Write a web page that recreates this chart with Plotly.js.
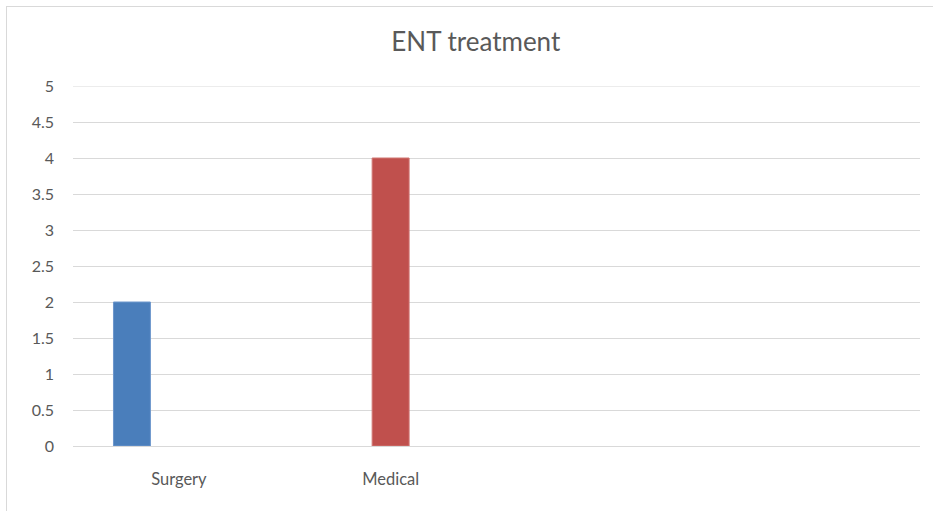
<!DOCTYPE html>
<html>
<head>
<meta charset="utf-8">
<script src="https://cdn.plot.ly/plotly-3.0.1.min.js"></script>
<style>
  html, body { margin: 0; padding: 0; background: #fff; }
  #wrap { position: relative; width: 933px; height: 511px; overflow: hidden; }
  #chart { position: absolute; left: 0; top: 0; width: 933px; height: 511px; }
  #frame { position: absolute; left: 6px; top: 6px; width: 940px; height: 520px;
           border: 1px solid #d9d9d9; box-sizing: border-box; pointer-events: none; }
</style>
</head>
<body>
<div id="wrap">
  <div id="chart"></div>
  <div id="frame"></div>
</div>
<script>
const categories = ["Surgery", "Medical"];
const series1 = [2, null];
const series2 = [null, 4];
const series3 = [null, null];
const yMax = 5;
const yTicks = [0, 0.5, 1, 1.5, 2, 2.5, 3, 3.5, 4, 4.5, 5];
const yTickLabels = ["0", "0.5", "1", "1.5", "2", "2.5", "3", "3.5", "4", "4.5", "5"];

const fontFam = "Lato, 'Open Sans', 'Liberation Sans', sans-serif";

const traces = [
  { type: "bar", name: "Series1", x: categories, y: series1,
    marker: { color: "#4a7ebb", line: { color: "#6d97cc", width: 1 } } },
  { type: "bar", name: "Series2", x: categories, y: series2,
    marker: { color: "#c0504d", line: { color: "#d07673", width: 1 } } },
  { type: "bar", name: "Series3", x: categories, y: series3,
    marker: { color: "#9bbb59" } }
];

const layout = {
  width: 933, height: 511,
  margin: { l: 73, r: 13, t: 86, b: 65 },
  paper_bgcolor: "#ffffff", plot_bgcolor: "#ffffff",
  barmode: "group",
  bargap: 0.335,
  bargroupgap: 0.213,
  showlegend: false,
  title: { text: "ENT treatment", x: 0.51, xanchor: "center", y: 0.918, yanchor: "middle",
           font: { family: fontFam, size: 26, color: "#595959" } },
  shapes: [
    { type: "line", xref: "paper", yref: "y", x0: 0, x1: 1, y0: yMax, y1: yMax,
      line: { color: "#d9d9d9", width: 1 }, layer: "below" }
  ],
  xaxis: {
    type: "category",
    range: [-0.5, 3.5],
    showgrid: false, zeroline: false, showline: false,
    ticks: "", ticklabelstandoff: 21,
    tickfont: { family: fontFam, size: 16.5, color: "#595959" },
    fixedrange: true
  },
  yaxis: {
    range: [0, yMax],
    tickvals: yTicks, ticktext: yTickLabels,
    showgrid: true, gridcolor: "#d9d9d9", gridwidth: 1,
    zeroline: true, zerolinecolor: "#d9d9d9", zerolinewidth: 1,
    showline: false, ticks: "", ticklabelstandoff: 18,
    tickfont: { family: fontFam, size: 16, color: "#595959" },
    fixedrange: true
  }
};

Plotly.newPlot("chart", traces, layout, { displayModeBar: false, staticPlot: true });
</script>
</body>
</html>
